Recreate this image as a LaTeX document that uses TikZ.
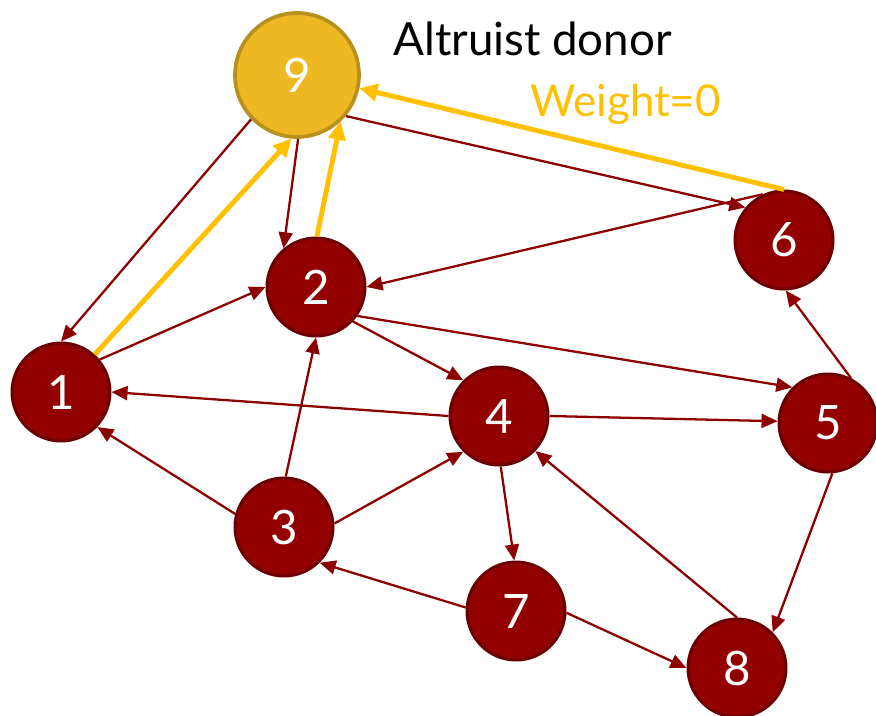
\documentclass[tikz,border=0pt]{standalone}
\usepackage{fontspec}
\setmainfont{Lato}
\usetikzlibrary{arrows.meta}
\definecolor{pairred}{RGB}{146,0,0}
\definecolor{pairdark}{RGB}{108,0,0}
\definecolor{arcred}{RGB}{140,0,0}
\definecolor{donorgold}{RGB}{238,184,34}
\definecolor{donordark}{RGB}{184,144,30}
\definecolor{zerogold}{RGB}{255,192,0}
\tikzset{
  pair/.style={circle,draw=pairdark,fill=pairred,line width=1.7pt,minimum size=1.96cm,
    inner sep=0pt,text=white,font=\fontsize{27}{30}\selectfont},
  donor/.style={pair,draw=donordark,fill=donorgold,line width=2.1pt,minimum size=2.48cm},
  arc/.style={draw=arcred,line width=1.3pt,-{Triangle[length=3.2mm,width=2.8mm]}},
  zeroarc/.style={draw=zerogold,line width=2.8pt,-{Triangle[length=3.6mm,width=3.4mm]}}
}
\begin{document}
\begin{tikzpicture}[x=0.2mm,y=-0.2mm]
\useasboundingbox (0,0) rectangle (876,715);
\node[donor] (n9) at (297,75) {9};
\node[pair] (n1) at (61,392) {1};
\node[pair] (n2) at (316,287) {2};
\node[pair] (n3) at (284,527) {3};
\node[pair] (n4) at (499,416) {4};
\node[pair] (n5) at (828,423) {5};
\node[pair] (n6) at (784,240) {6};
\node[pair] (n7) at (516,611) {7};
\node[pair] (n8) at (737,668) {8};
\node[anchor=base west,inner sep=0pt,font=\fontsize{26}{30}\selectfont] (altruist) at (393,55) {Altruist donor};
\node[anchor=base west,inner sep=0pt,text=zerogold,font=\fontsize{25}{28}\selectfont] (weight) at (530,116) {Weight=0};

\draw[arc] (n9.224) -- (n1.90);
\draw[arc] (n9.271) -- (n2.130);
\draw[arc] (n9.320) -- (n6.140);
\draw[arc] (n6.115) -- (n2.0);
\draw[arc] (n1.40) -- (n2.180);
\draw[arc] (n2.317) -- (n4.135);
\draw[arc] (n2.325) -- (n5.135);
\draw[arc] (n4.180) -- (n1.0);
\draw[arc] (n4.0) -- (n5.178);
\draw[arc] (n4.272) -- (n7.92);
\draw[arc] (n3.165) -- (n1.316);
\draw[arc] (n3.88) -- (n2.270);
\draw[arc] (n3.4) -- (n4.225);
\draw[arc] (n7.176) -- (n3.315);
\draw[arc] (n7.358) -- (n8.180);
\draw[arc] (n8.90) -- (n4.316);
\draw[arc] (n5.275) -- (n8.45);
\draw[arc] (n5.63) -- (n6.272);

\draw[zeroarc] (n1.48) -- (n9.265);
\draw[zeroarc] (n2.89) -- (n9.313);
\draw[zeroarc] (n6.90) -- (n9.348);
\end{tikzpicture}
\end{document}
